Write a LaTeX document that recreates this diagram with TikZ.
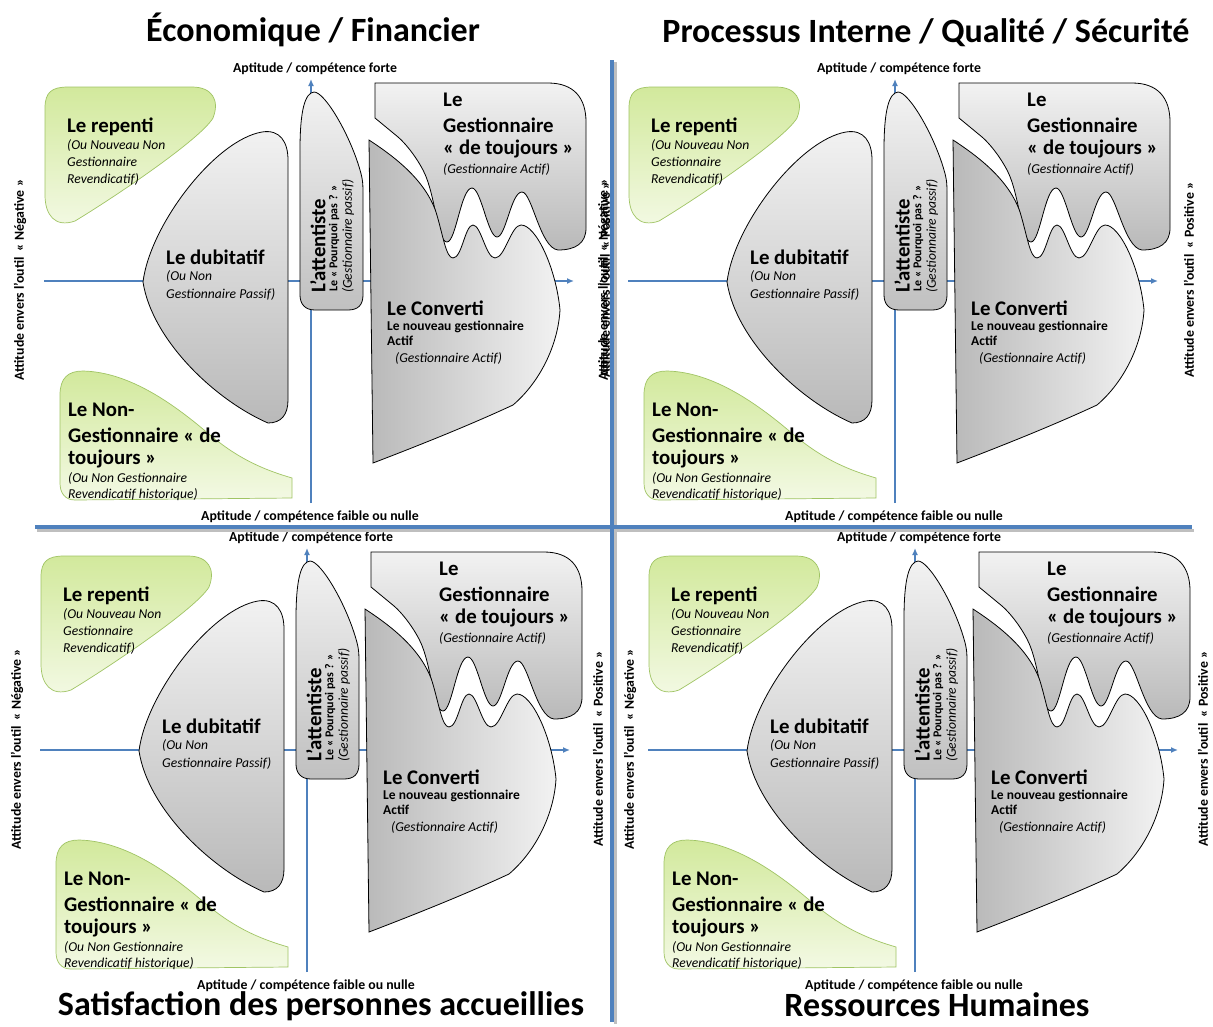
\documentclass[tikz,border=0pt]{standalone}
\usepackage{fontspec}
\setmainfont{Carlito}
\usetikzlibrary{arrows.meta}
\definecolor{axisblue}{RGB}{79,129,189}
\definecolor{gtop}{RGB}{210,233,156}
\definecolor{gbot}{RGB}{243,249,228}
\definecolor{gline}{RGB}{160,196,100}
\definecolor{graylt}{RGB}{242,242,242}
\definecolor{graydk}{RGB}{185,185,185}

\newcommand\drawquad[5]{%
\begin{scope}[shift={(#2,#3)}]
  % axes
  \coordinate (#1hl) at (44,281);
  \coordinate (#1hr) at (574,281);
  \coordinate (#1vb) at (311,503);
  \coordinate (#1vt) at (311,79);
  \draw[axis] (#1hl) -- (#1hr);
  \draw[axis] (#1vb) -- (#1vt);
  % axis labels
  \node[lab] (#1top) at (315,69) {Aptitude / compétence forte};
  \node[lab] (#1bot) at (310,517) {Aptitude / compétence faible ou nulle};
  \node[lab,rotate=90] (#1neg) at ({20+(#4)},280) {Attitude envers l’outil \ « Négative »};
  \node[lab,rotate=90] (#1pos) at ({605+(#5)},280) {Attitude envers l’outil \ « Positive »};
  % shapes
  \path[greenshape] (45,108) .. controls (45,92) and (52,87) .. (68,87) -- (192,87)
    .. controls (212,87) and (220,100) .. (213,118)
    .. controls (200,140) and (110,200) .. (75,221)
    .. controls (55,228) and (45,215) .. (45,195) -- cycle;
  \path[greenshape] (60,395) .. controls (60,378) and (68,371) .. (83,371)
    .. controls (130,372) and (175,405) .. (210,435)
    .. controls (240,460) and (265,470) .. (292,478) -- (292,498) -- (75,500)
    .. controls (65,500) and (60,493) .. (60,483) -- cycle;
  \path[grayshape,top color=graylt,bottom color=graydk] (143,282)
    .. controls (150,225) and (215,140) .. (262,132)
    .. controls (280,129) and (288,142) .. (288,160) -- (288,400)
    .. controls (288,415) and (281,423) .. (268,423)
    .. controls (215,400) and (152,340) .. (143,282) -- cycle;
  \path[grayshape,top color=graylt,bottom color=graydk!90] (300,150)
    .. controls (300,110) and (305,93) .. (314,92)
    .. controls (325,92) and (350,135) .. (360,170)
    .. controls (363,180) and (363,185) .. (363,195) -- (363,295)
    .. controls (363,305) and (358,310) .. (348,310) -- (315,310)
    .. controls (305,310) and (300,304) .. (300,295) -- cycle;
  \path[grayshape,top color=graylt,bottom color=graydk] (375,83) -- (548,83)
    .. controls (574,83) and (586,98) .. (586,122) -- (586,228)
    .. controls (586,243) and (576,250) .. (558,250)
    .. controls (540,248) and (532,192) .. (522,192)
    .. controls (511,192) and (506,237) .. (497,237)
    .. controls (488,237) and (481,188) .. (472,188)
    .. controls (461,188) and (456,242) .. (447,242)
    .. controls (437,242) and (436,195) .. (423,170)
    .. controls (415,155) and (405,143) .. (398,137) -- (375,118) -- cycle;
  \path[grayshape,left color=graydk,right color=graylt] (369,140)
    .. controls (395,157) and (425,180) .. (436,212)
    .. controls (443,235) and (446,258) .. (453,258)
    .. controls (462,258) and (465,225) .. (473,225)
    .. controls (481,225) and (486,258) .. (495,258)
    .. controls (505,258) and (511,225) .. (521,225)
    .. controls (536,225) and (556,268) .. (560,310)
    .. controls (558,345) and (540,382) .. (513,405)
    .. controls (470,425) and (420,445) .. (373,463) -- cycle;
  % texts
  \node[big] (#1repA) at (67,127) {Le repenti};
  \node[it] (#1repB) at (67,145) {(Ou Nouveau Non};
  \node[it] (#1repC) at (67,162) {Gestionnaire};
  \node[it] (#1repD) at (67,179) {Revendicatif)};
  \node[big] (#1dubA) at (166,257) {Le dubitatif};
  \node[it] (#1dubB) at (166,276) {(Ou Non};
  \node[it] (#1dubC) at (166,294) {Gestionnaire Passif)};
  \node[big,rotate=90] (#1attA) at (318,293) {L’attentiste};
  \node[attsm,rotate=90] (#1attB) at (334,292) {Le « Pourquoi pas ? »};
  \node[it,rotate=90] (#1attC) at (348,293) {(Gestionnaire passif)};
  \node[big] (#1gesA) at (443,100) {Le};
  \node[big] (#1gesB) at (443,125) {Gestionnaire};
  \node[big] (#1gesC) at (443,149) {« de toujours »};
  \node[it] (#1gesD) at (443,169) {(Gestionnaire Actif)};
  \node[big] (#1conA) at (387,308) {Le Converti};
  \node[sm] (#1conB) at (387,327) {Le nouveau gestionnaire};
  \node[sm] (#1conC) at (387,341) {Actif};
  \node[it] (#1conD) at (395,358) {(Gestionnaire Actif)};
  \node[big] (#1ngA) at (68,410) {Le Non-};
  \node[big] (#1ngB) at (68,435) {Gestionnaire « de};
  \node[big] (#1ngC) at (68,459) {toujours »};
  \node[it] (#1ngD) at (68,478) {(Ou Non Gestionnaire};
  \node[it] (#1ngE) at (68,495) {Revendicatif historique)};
\end{scope}}

\begin{document}
\begin{tikzpicture}[x=1pt,y=-1pt,
  axis/.style={draw=axisblue,line width=1.4pt,-{Latex[length=7pt,width=6pt]}},
  sep/.style={draw=axisblue,line width=3.2pt},
  sepshadow/.style={draw=black!25,line width=3pt},
  greenshape/.style={draw=gline,line width=0.7pt,top color=gtop,bottom color=gbot},
  grayshape/.style={draw=black,line width=0.8pt},
  big/.style={font=\fontsize{20.8}{22}\selectfont\bfseries,anchor=west,inner sep=0pt},
  it/.style={font=\fontsize{13.6}{15}\selectfont\itshape,anchor=west,inner sep=0pt},
  sm/.style={font=\fontsize{13.5}{15}\selectfont\bfseries,anchor=west,inner sep=0pt},
  attsm/.style={font=\fontsize{12}{14}\selectfont\bfseries,anchor=west,inner sep=0pt},
  lab/.style={font=\fontsize{13.8}{15}\selectfont\bfseries,inner sep=0pt},
  title/.style={font=\fontsize{34}{36}\selectfont\bfseries,inner sep=0pt}]
\useasboundingbox (0,0) rectangle (1213,1026);
\fill[white] (0,0) rectangle (1213,1026);
\drawquad{a}{0}{0}{0}{0}
\drawquad{b}{584}{0}{0}{0}
\drawquad{c}{-4}{469}{1}{-3}
\drawquad{d}{604}{469}{6}{-6}
% separators
\coordinate (sL) at (35,527);
\coordinate (sR) at (1192,527);
\coordinate (sT) at (612,60);
\coordinate (sB) at (612,1022);
\coordinate (shL) at (37,530);
\coordinate (shR) at (1194,530);
\coordinate (shT) at (615,62);
\coordinate (shB) at (615,1024);
\draw[sepshadow] (shL) -- (shR);
\draw[sepshadow] (shT) -- (shB);
\draw[sep] (sL) -- (sR);
\draw[sep] (sT) -- (sB);
% titles
\node[title] (t1) at (313,30) {Économique / Financier};
\node[title] (t2) at (926,33) {Processus Interne / Qualité / Sécurité};
\node[title] (t3) at (321,1006) {Satisfaction des personnes accueillies};
\node[title] (t4) at (937,1005) {Ressources Humaines};
\end{tikzpicture}
\end{document}
